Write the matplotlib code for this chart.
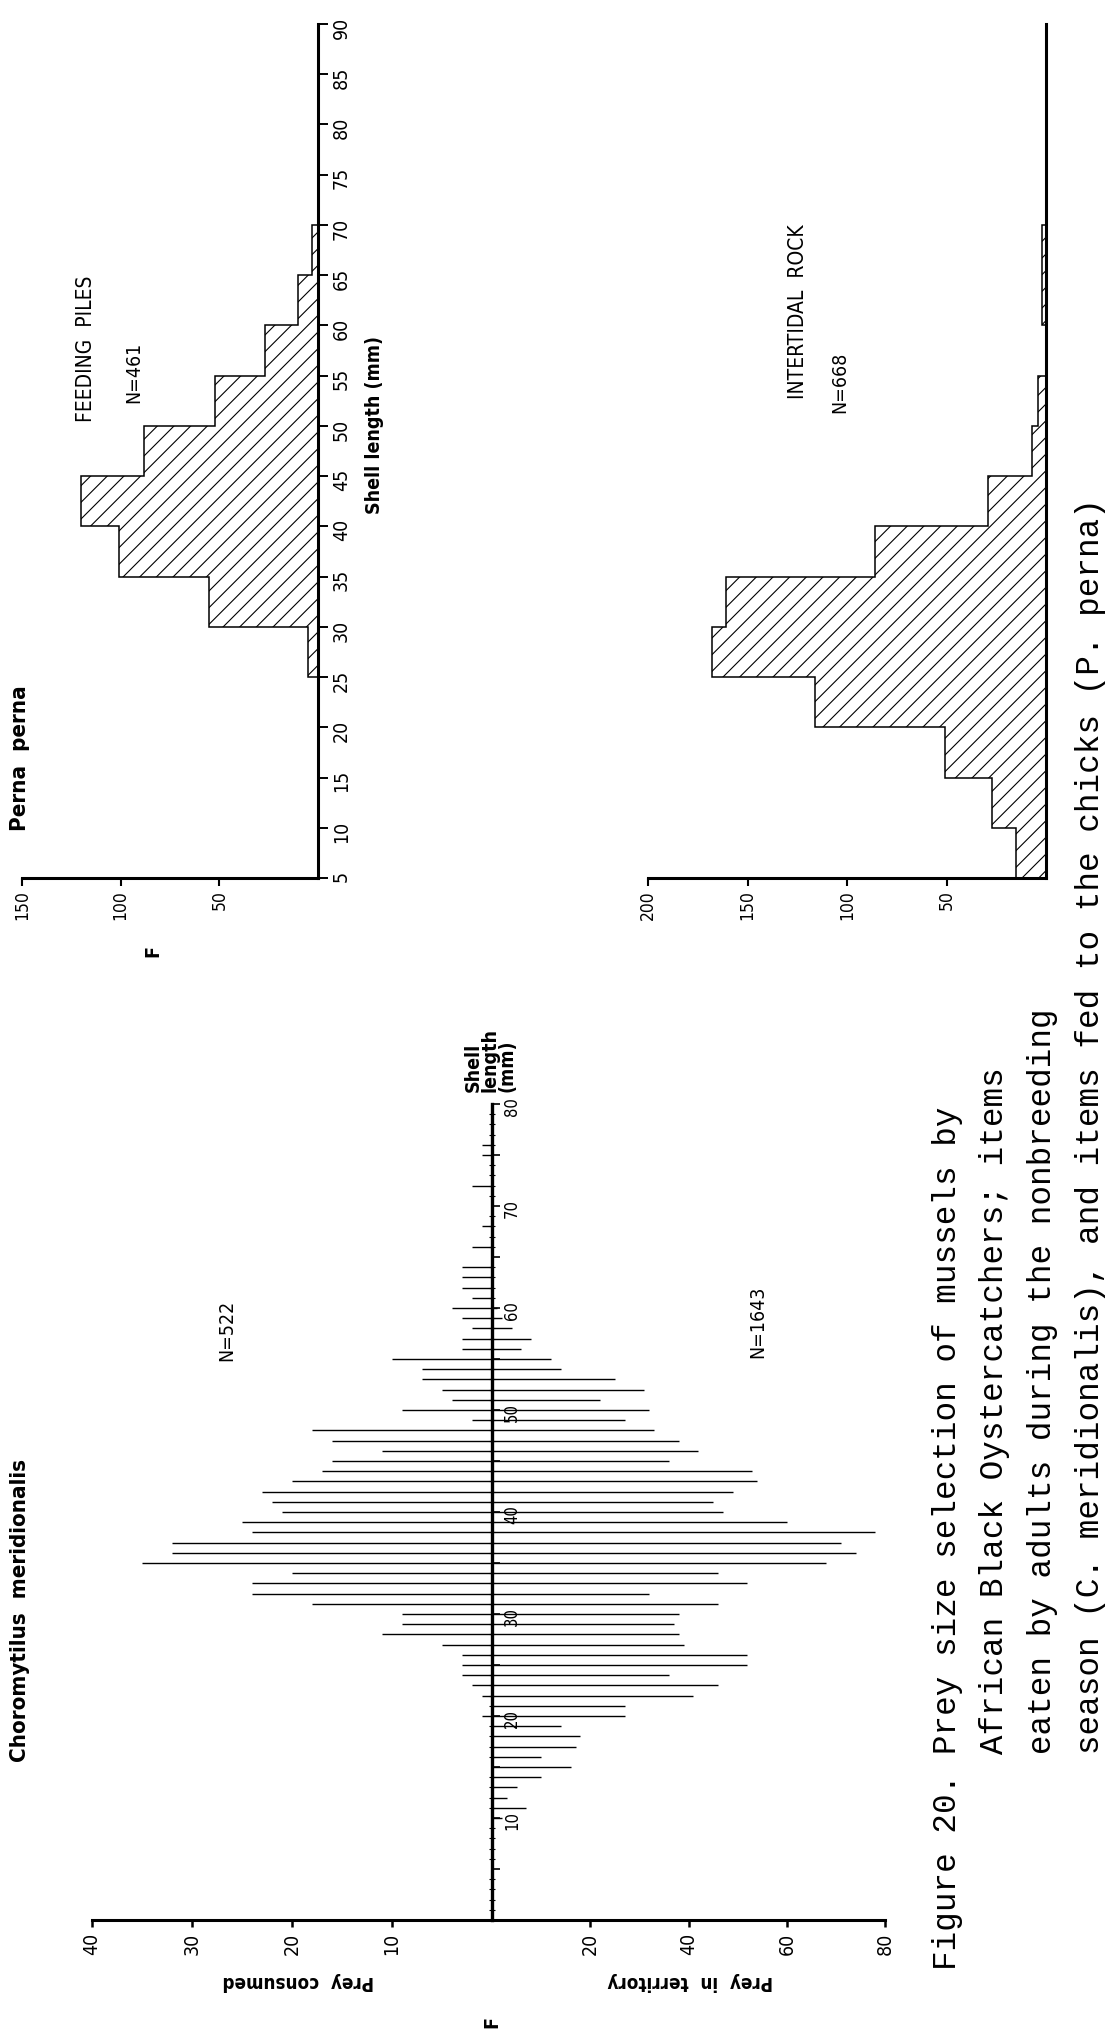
import matplotlib
matplotlib.use("Agg")
import matplotlib.pyplot as plt

plt.rcParams['font.family'] = ['DejaVu Sans']
plt.rcParams['font.stretch'] = 'condensed'
plt.rcParams['hatch.linewidth'] = 0.8

W, H = 1106, 2034

# Perna perna, 5 mm shell length classes (lower edges 5..85)
perna_edges = [5, 10, 15, 20, 25, 30, 35, 40, 45, 50, 55, 60, 65, 70, 75, 80, 85, 90]
feeding_piles = [0, 0, 0, 0, 5, 55, 101, 120, 88, 52, 27, 10, 3, 0, 0, 0, 0]
intertidal_rock = [15, 27, 51, 116, 168, 161, 86, 29, 7, 4, 0, 2, 2, 0, 0, 0, 0]

# Choromytilus meridionalis, 1 mm classes from 10 to 76 mm
choro_mm = list(range(10, 77))
consumed = [0, 0, 0, 0, 0, 0, 0, 0, 0, 0,
            1, 0, 1, 2, 3, 3, 3, 5, 11, 9,
            9, 18, 24, 24, 20, 35, 32, 32, 24, 25,
            21, 22, 23, 20, 17, 16, 11, 16, 18, 2,
            9, 4, 5, 7, 7, 10, 3, 3, 2, 3,
            4, 2, 3, 3, 3, 0, 2, 0, 1, 0,
            0, 0, 2, 0, 0, 1, 1]
territory = [2, 7, 3, 5, 10, 16, 10, 17, 18, 14,
             27, 27, 41, 46, 36, 52, 52, 39, 38, 37,
             38, 46, 32, 52, 46, 68, 74, 71, 78, 60,
             47, 45, 49, 54, 53, 36, 42, 38, 33, 27,
             32, 22, 31, 25, 14, 12, 6, 8, 4, 2,
             1, 0, 0, 0, 0, 0, 0, 0, 0, 0,
             0, 0, 0, 0, 0, 0, 0]

caption = ["Figure 20. Prey size selection of mussels by",
           "           African Black Oystercatchers; items",
           "           eaten by adults during the nonbreeding",
           "           season (C. meridionalis), and items fed to the chicks (P. perna)"]

fig = plt.figure(figsize=(W / 100, H / 100), dpi=100)
fig.patch.set_facecolor('white')


def axes_px(x0, y0, x1, y1):
    ax = fig.add_axes([x0 / W, 1 - y1 / H, (x1 - x0) / W, (y1 - y0) / H])
    ax.patch.set_visible(False)
    for s in ax.spines.values():
        s.set_visible(False)
    return ax


def text_px(x, y, s, **kw):
    kw.setdefault('ha', 'center')
    kw.setdefault('va', 'center')
    kw.setdefault('rotation', 90)
    return fig.text(x / W, 1 - y / H, s, **kw)


def perna_axes(x0, x1, fmax, values, ylabels):
    ax = axes_px(x0, 24, x1, 878)
    ax.set_xlim(fmax, 0)
    ax.set_ylim(5, 90)
    ax.stairs(values, perna_edges, orientation='horizontal', baseline=0,
              fill=True, facecolor='none', edgecolor='black', hatch='//',
              linewidth=1.1)
    ax.spines['right'].set_visible(True)
    ax.spines['bottom'].set_visible(True)
    ax.spines['right'].set_linewidth(2.2)
    ax.spines['bottom'].set_linewidth(2.2)
    ax.set_xticks(range(50, fmax + 1, 50))
    ax.tick_params(axis='x', direction='out', length=6, width=1.5,
                   labelsize=12.5, labelrotation=90, pad=3)
    ax.yaxis.tick_right()
    if ylabels:
        ax.set_yticks(range(5, 91, 5))
        ax.tick_params(axis='y', direction='out', length=7, width=1.4,
                       labelsize=14, labelrotation=90, pad=3)
    else:
        ax.set_yticks([])
    return ax


perna_axes(22, 318, 150, feeding_piles, True)
perna_axes(648, 1046, 200, intertidal_rock, False)

# Choromytilus: consumed to the left, territory to the right
axc = axes_px(92, 1104, 492, 1920)
axt = axes_px(492, 1104, 885, 1920)
axc.set_xlim(40, 0)
axt.set_xlim(0, 80)
for ax in (axc, axt):
    ax.set_ylim(0, 80)
    ax.spines['bottom'].set_visible(True)
    ax.spines['bottom'].set_linewidth(2.2)
    ax.tick_params(axis='x', direction='out', length=5, width=1.8,
                   labelsize=14, labelrotation=90, pad=4)

cm = [m for m, v in zip(choro_mm, consumed) if v > 0]
cv = [v for v in consumed if v > 0]
tm = [m for m, v in zip(choro_mm, territory) if v > 0]
tv = [v for v in territory if v > 0]
axc.hlines(cm, 0, cv, color='black', linewidth=1.0)
axt.hlines(tm, 0, tv, color='black', linewidth=1.0)

axc.set_xticks([10, 20, 30, 40])
axt.set_xticks([20, 40, 60, 80])
axt.set_yticks([])
axc.spines['right'].set_visible(True)
axc.spines['right'].set_linewidth(2.4)
axc.yaxis.tick_right()
fives = list(range(5, 81, 5))
axc.set_yticks(fives, [str(v) if v % 10 == 0 else '' for v in fives])
axc.set_yticks(range(1, 80), minor=True)
axc.tick_params(axis='y', which='major', direction='out', length=6, width=1.2,
                labelsize=12, labelrotation=90, pad=2)
axc.tick_params(axis='y', which='minor', direction='inout', length=4, width=0.8)

# labels
bold = dict(fontweight='bold')
text_px(20, 758, 'Perna  perna', fontsize=16, **bold)
text_px(86, 349, 'FEEDING  PILES', fontsize=15)
text_px(134, 372, 'N=461', fontsize=14)
text_px(374, 425, 'Shell length (mm)', fontsize=14, **bold)
text_px(153, 951, 'F', fontsize=14, **bold)
text_px(798, 312, 'INTERTIDAL  ROCK', fontsize=15)
text_px(840, 382, 'N=668', fontsize=14)

text_px(20, 1610, 'Choromytilus  meridionalis', fontsize=16, **bold)
text_px(227, 1330, 'N=522', fontsize=14)
text_px(758, 1322, 'N=1643', fontsize=14)
text_px(490, 1092, 'Shell\nlength\n(mm)', fontsize=14, ha='left', va='center',
        rotation_mode='anchor', linespacing=0.85, **bold)
text_px(298, 1982, 'Prey  consumed', fontsize=13.5, rotation=180, **bold)
text_px(690, 1982, 'Prey  in  territory', fontsize=13.5, rotation=180, **bold)
text_px(492, 2022, 'F', fontsize=14, **bold)

# caption, typewriter style
for i, line in enumerate(caption):
    text_px(956 + i * 47.5, 1970, line, family='Liberation Mono',
            fontstretch='normal', fontsize=23.5, ha='left', va='baseline',
            rotation_mode='anchor')

fig.savefig('out.png', dpi=100, facecolor='white')
